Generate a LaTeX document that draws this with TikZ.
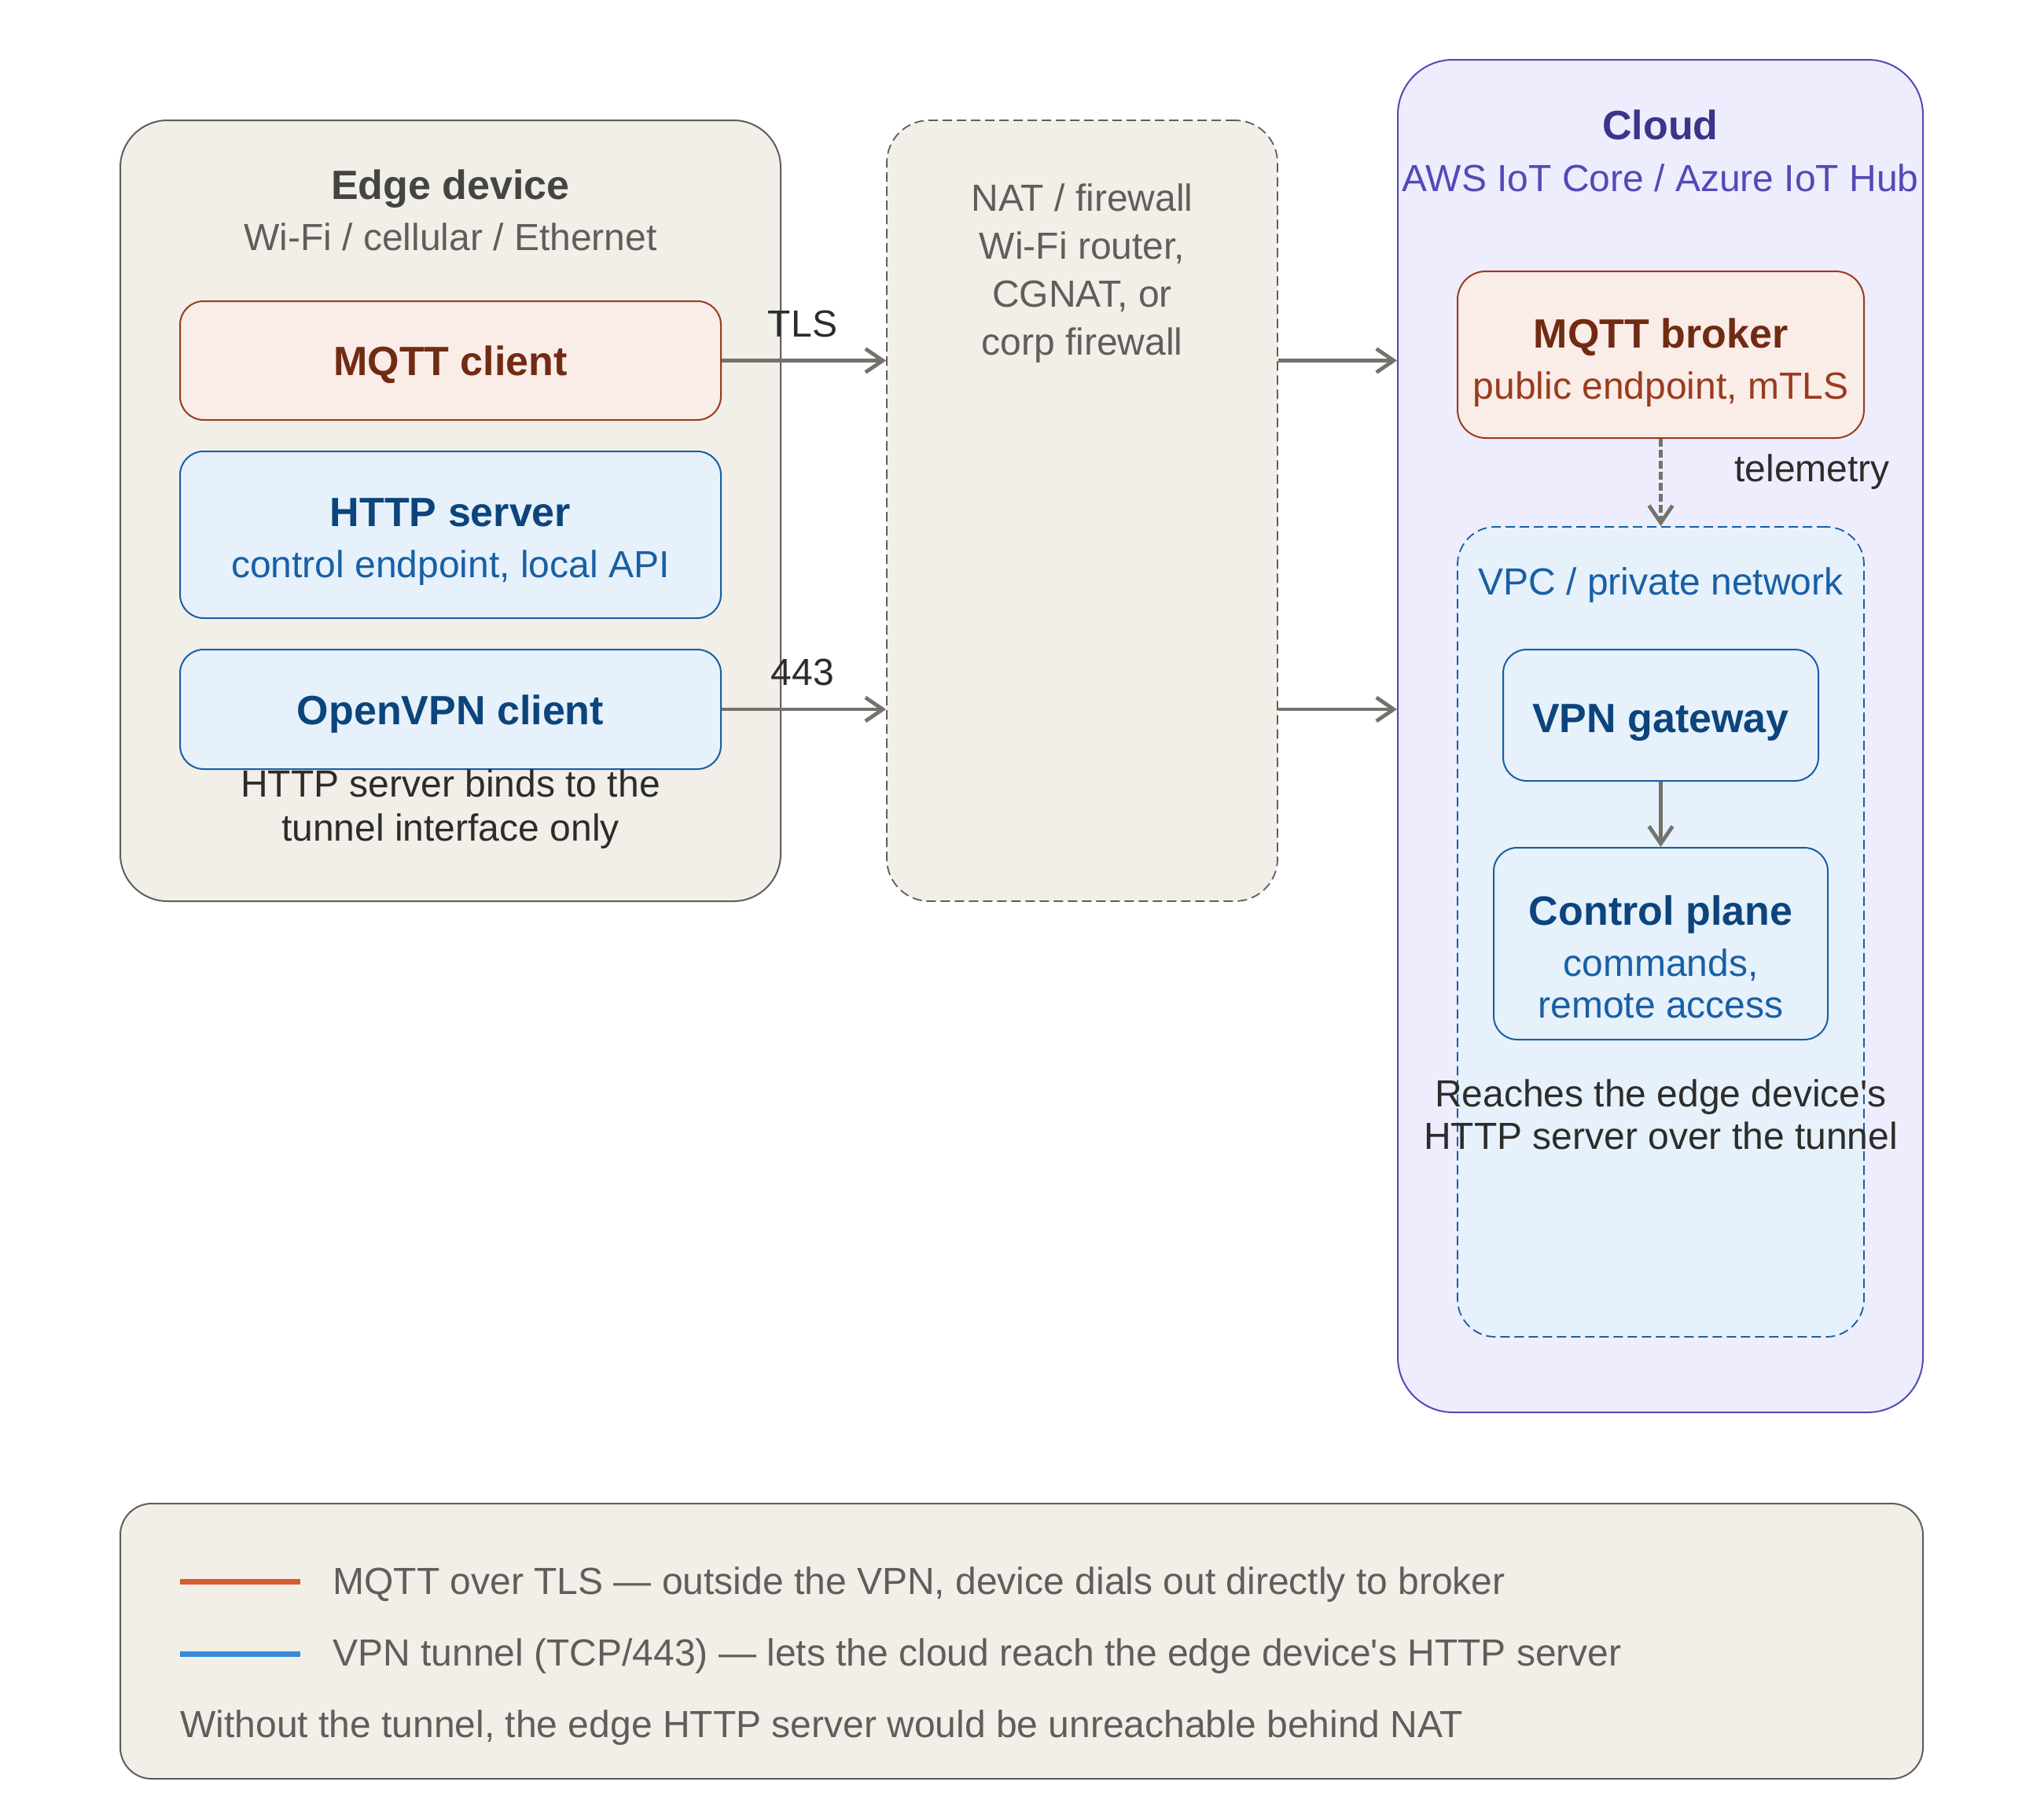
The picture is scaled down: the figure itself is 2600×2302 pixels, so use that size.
\documentclass[tikz,border=0pt]{standalone}
\usepackage{fontspec}
\newfontfamily\lib{Liberation Sans}
\usetikzlibrary{arrows.meta}
\definecolor{beige}{HTML}{F1EFE8}
\definecolor{grayln}{HTML}{5F5E5A}
\definecolor{graytt}{HTML}{444441}
\definecolor{coralfill}{HTML}{FAECE7}
\definecolor{coralln}{HTML}{993C1D}
\definecolor{coraltt}{HTML}{712B13}
\definecolor{bluefill}{HTML}{E6F1FB}
\definecolor{blueln}{HTML}{185FA5}
\definecolor{bluett}{HTML}{0C447C}
\definecolor{purpfill}{HTML}{EEEDFE}
\definecolor{purpln}{HTML}{534AB7}
\definecolor{purptt}{HTML}{3C3489}
\definecolor{arrowc}{HTML}{73726C}
\definecolor{notec}{HTML}{2C2C2A}
\definecolor{legor}{HTML}{D85A30}
\definecolor{legbl}{HTML}{378ADD}
\begin{document}
\begin{tikzpicture}[x=0.5pt,y=-0.5pt,
 container/.style={draw=grayln, fill=beige, line width=1pt, inner sep=0pt, rounded corners=30pt},
 dashbox/.style={line width=0.9pt, dash pattern=on 6pt off 3pt, inner sep=0pt},
 inbox/.style={line width=1pt, inner sep=0pt, rounded corners=15pt},
 coralbox/.style={inbox, draw=coralln, fill=coralfill},
 bluebox/.style={inbox, draw=blueln, fill=bluefill},
 ttl/.style={font=\lib\fontsize{26pt}{30pt}\selectfont\bfseries, anchor=base, inner sep=0pt},
 txt/.style={font=\lib\fontsize{24pt}{28pt}\selectfont, anchor=base, inner sep=0pt},
 arr/.style={draw=arrowc, line width=2.4pt, -{Straight Barb[length=11pt,width=15pt]}},
]
\fill[white] (0,0) rectangle (2600,2302);
\useasboundingbox (0,0) rectangle (2600,2302);

% Edge device
\node[container, minimum width=420pt, minimum height=496.5pt] (edge) at (573,649.5) {};
\node[ttl, text=graytt] (edgeT) at (573,253) {Edge device};
\node[txt, text=grayln] (edgeS) at (573,318) {Wi-Fi / cellular / Ethernet};
\node[coralbox, minimum width=344pt, minimum height=75.5pt] (mqttc) at (573,458.5) {};
\node[ttl, text=coraltt] (mqttcT) at (573,477) {MQTT client};
\node[bluebox, minimum width=344pt, minimum height=106pt] (https) at (573,680) {};
\node[ttl, text=bluett] (httpsT) at (573,669) {HTTP server};
\node[txt, text=blueln] (httpsS) at (573,734) {control endpoint, local API};
\node[bluebox, minimum width=344pt, minimum height=76pt] (ovpn) at (573,902) {};
\node[ttl, text=bluett] (ovpnT) at (573,921) {OpenVPN client};
\node[txt, text=notec] (edgeN1) at (573,1013) {HTTP server binds to the};
\node[txt, text=notec] (edgeN2) at (573,1069) {tunnel interface only};

% NAT
\node[dashbox, draw=grayln, fill=beige, rounded corners=27pt, minimum width=248.5pt, minimum height=496.5pt] (nat) at (1376.5,649.5) {};
\node[txt, text=grayln] (nat1) at (1376.5,268) {NAT / firewall};
\node[txt, text=grayln] (nat2) at (1376.5,329) {Wi-Fi router,};
\node[txt, text=grayln] (nat3) at (1376.5,390) {CGNAT, or};
\node[txt, text=grayln] (nat4) at (1376.5,451) {corp firewall};

% Cloud
\node[draw=purpln, fill=purpfill, line width=1pt, inner sep=0pt, rounded corners=35pt, minimum width=334pt, minimum height=860pt] (cloud) at (2112,936) {};
\node[ttl, text=purptt] (cloudT) at (2112,177) {Cloud};
\node[txt, text=purpln] (cloudS) at (2112,243) {AWS IoT Core / Azure IoT Hub};
\node[coralbox, rounded corners=18pt, minimum width=258.5pt, minimum height=106pt] (broker) at (2112.5,451) {};
\node[ttl, text=coraltt] (brokerT) at (2112.5,442) {MQTT broker};
\node[txt, text=coralln] (brokerS) at (2112.5,507) {public endpoint, mTLS};
\node[dashbox, draw=blueln, fill=bluefill, rounded corners=24pt, minimum width=258.5pt, minimum height=515pt] (vpc) at (2112.5,1185) {};
\node[txt, text=blueln] (vpcT) at (2112.5,756) {VPC / private network};
\node[bluebox, minimum width=200.5pt, minimum height=83.5pt] (vpngw) at (2112.5,909.5) {};
\node[ttl, text=bluett] (vpngwT) at (2112.5,931) {VPN gateway};
\node[bluebox, minimum width=212.5pt, minimum height=122pt] (ctrl) at (2112.5,1200) {};
\node[ttl, text=bluett] (ctrlT) at (2112.5,1176) {Control plane};
\node[txt, text=blueln] (ctrlS1) at (2112.5,1241) {commands,};
\node[txt, text=blueln] (ctrlS2) at (2112.5,1294) {remote access};
\node[txt, text=notec] (cloudN1) at (2112.5,1407) {Reaches the edge device's};
\node[txt, text=notec] (cloudN2) at (2112.5,1461) {HTTP server over the tunnel};

% connectors
\draw[arr] (mqttc.east) -- (mqttc.east -| nat.west);
\draw[arr] (mqttc.east -| nat.east) -- (mqttc.east -| cloud.west);
\draw[arr] (ovpn.east) -- (ovpn.east -| nat.west);
\draw[arr] (ovpn.east -| nat.east) -- (ovpn.east -| cloud.west);
\draw[arr, dash pattern=on 5pt off 2pt] (broker.south) -- (vpc.north);
\draw[arr] (vpngw.south) -- (ctrl.north);
\node[txt, text=notec] (tls) at (1021,428) {TLS};
\node[txt, text=notec] (p443) at (1021,871) {443};
\node[txt, text=notec] (telem) at (2305,612) {telemetry};

% legend
\node[container, rounded corners=20pt, minimum width=1146.5pt, minimum height=175pt] (legend) at (1299.5,2087) {};
\coordinate (lo1) at (229,2011);
\coordinate (lo2) at (382,2011);
\coordinate (lb1) at (229,2103);
\coordinate (lb2) at (382,2103);
\draw[legor, line width=3.5pt] (lo1) -- (lo2);
\draw[legbl, line width=3.5pt] (lb1) -- (lb2);
\node[txt, anchor=base west, text=grayln] (leg1) at (423,2027) {MQTT over TLS — outside the VPN, device dials out directly to broker};
\node[txt, anchor=base west, text=grayln] (leg2) at (423,2118) {VPN tunnel (TCP/443) — lets the cloud reach the edge device's HTTP server};
\node[txt, anchor=base west, text=grayln] (leg3) at (229,2209) {Without the tunnel, the edge HTTP server would be unreachable behind NAT};
\end{tikzpicture}
\end{document}
